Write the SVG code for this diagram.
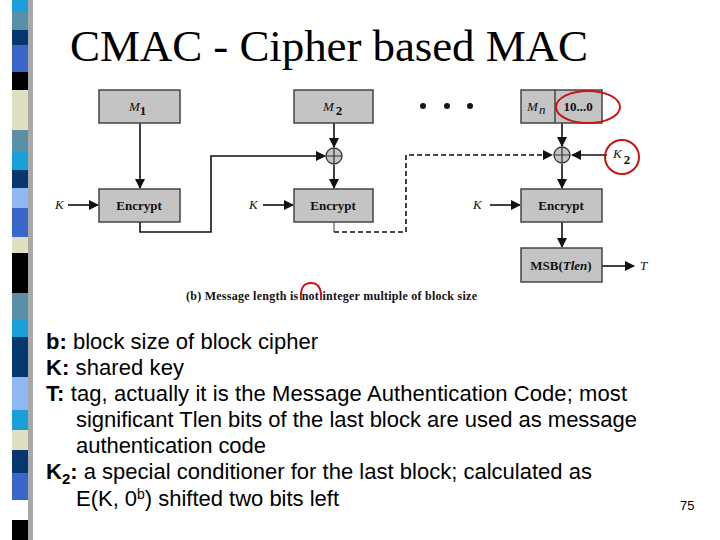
<svg xmlns="http://www.w3.org/2000/svg" width="720" height="540" viewBox="0 0 720 540">
<defs>
<marker id="ah" markerWidth="10" markerHeight="10" refX="9" refY="5" orient="auto" markerUnits="userSpaceOnUse"><path d="M0,0 L10,5 L0,10 Z" fill="#111"/></marker>
<style>
.box{fill:#c4c4c4;stroke:#444;stroke-width:1.5}
.bl{font-family:"Liberation Serif",serif;font-weight:bold;font-size:13px;fill:#111;text-anchor:middle}
.it{font-family:"Liberation Serif",serif;font-style:italic;font-size:13px;fill:#111}
.ln{fill:none;stroke:#111;stroke-width:1.6}
.ds{fill:none;stroke:#111;stroke-width:1.6;stroke-dasharray:5,3}
.body{font-family:"Liberation Sans",sans-serif;font-size:22px;fill:#000}
.red{fill:none;stroke:#c81414;stroke-width:2}
</style>
</defs>
<rect width="720" height="540" fill="#fff"/>
<g id="strip">
<rect x="28" y="0" width="5" height="540" fill="#a8a8a8"/>
<rect x="12" y="0" width="16" height="12" fill="#1aa0d8"/>
<rect x="12" y="12" width="16" height="18" fill="#5a8fa8"/>
<rect x="12" y="30" width="16" height="15" fill="#06386e"/>
<rect x="12" y="45" width="16" height="27" fill="#3a66cc"/>
<rect x="12" y="72" width="16" height="18" fill="#000"/>
<rect x="12" y="90" width="16" height="40" fill="#e0e0c0"/>
<rect x="12" y="130" width="16" height="22" fill="#5a8fa8"/>
<rect x="12" y="152" width="16" height="18" fill="#1aa0d8"/>
<rect x="12" y="170" width="16" height="18" fill="#06386e"/>
<rect x="12" y="188" width="16" height="20" fill="#90b8f0"/>
<rect x="12" y="208" width="16" height="29" fill="#3a66cc"/>
<rect x="12" y="237" width="16" height="16" fill="#e0e0c0"/>
<rect x="12" y="253" width="16" height="40" fill="#000"/>
<rect x="12" y="293" width="16" height="27" fill="#5a8fa8"/>
<rect x="12" y="320" width="16" height="17" fill="#1aa0d8"/>
<rect x="12" y="337" width="16" height="40" fill="#06386e"/>
<rect x="12" y="377" width="16" height="33" fill="#90b8f0"/>
<rect x="12" y="410" width="16" height="20" fill="#1aa0d8"/>
<rect x="12" y="430" width="16" height="20" fill="#e0e0c0"/>
<rect x="12" y="450" width="16" height="23" fill="#06386e"/>
<rect x="12" y="473" width="16" height="27" fill="#3a66cc"/>
<rect x="12" y="520" width="16" height="20" fill="#000"/>
</g>
<text x="70" y="61" font-family="Liberation Serif,serif" font-size="45" fill="#000" textLength="518" lengthAdjust="spacing">CMAC -  Cipher based MAC</text>
<g id="connectors">
<line class="ln" x1="140" y1="123" x2="140" y2="188" marker-end="url(#ah)"/>
<line class="ln" x1="68" y1="205" x2="98" y2="205" marker-end="url(#ah)"/>
<polyline class="ln" points="140,222 140,232 211,232 211,156 325,156" marker-end="url(#ah)"/>
<line class="ln" x1="334" y1="123" x2="334" y2="147" marker-end="url(#ah)"/>
<line class="ln" x1="334" y1="165" x2="334" y2="188" marker-end="url(#ah)"/>
<line class="ln" x1="263" y1="205" x2="293" y2="205" marker-end="url(#ah)"/>
<line x1="334" y1="222" x2="334" y2="232" stroke="#888" stroke-width="1.6"/>
<polyline class="ds" points="334,232 406,232 406,155 552,155" marker-end="url(#ah)"/>
<line class="ln" x1="562" y1="123" x2="562" y2="146" marker-end="url(#ah)"/>
<line class="ln" x1="607" y1="155" x2="572" y2="155" marker-end="url(#ah)"/>
<line class="ln" x1="562" y1="164" x2="562" y2="188" marker-end="url(#ah)"/>
<line class="ln" x1="490" y1="205" x2="520" y2="205" marker-end="url(#ah)"/>
<line class="ln" x1="562" y1="222" x2="562" y2="247" marker-end="url(#ah)"/>
<line class="ln" x1="602" y1="266" x2="634" y2="266" marker-end="url(#ah)"/>
</g>
<g id="m1"><rect class="box" x="99" y="90" width="81" height="33"/><text class="it" x="129" y="111">M</text><text x="143" y="115" class="bl" font-size="15">1</text></g>
<g id="enc1"><rect class="box" x="99" y="189" width="81" height="33"/><text class="bl" x="139" y="210">Encrypt</text></g>
<g id="m2"><rect class="box" x="294" y="90" width="79" height="33"/><text class="it" x="323" y="111">M</text><text x="339" y="115" class="bl" font-size="15">2</text></g>
<g id="enc2"><rect class="box" x="294" y="189" width="79" height="33"/><text class="bl" x="333" y="210">Encrypt</text></g>
<g id="mn"><rect class="box" x="521" y="90" width="81" height="33"/><line x1="555" y1="90" x2="555" y2="123" stroke="#444" stroke-width="1.5"/><text class="it" x="527" y="111">M</text><text class="it" x="539" y="114" font-size="12">n</text><text class="bl" x="578" y="111">10...0</text></g>
<g id="enc3"><rect class="box" x="521" y="189" width="81" height="33"/><text class="bl" x="561" y="210">Encrypt</text></g>
<g id="msb"><rect class="box" x="521" y="248" width="81" height="34"/><text class="bl" x="561" y="270">MSB(<tspan font-style="italic">Tlen</tspan>)</text></g>
<g id="xor2"><circle cx="334" cy="156" r="8" fill="#c4c4c4" stroke="#333" stroke-width="1.3"/><path d="M326,156 H342 M334,148 V164" stroke="#333" stroke-width="1.2"/></g>
<g id="xor3"><circle cx="562" cy="155" r="8" fill="#c4c4c4" stroke="#333" stroke-width="1.3"/><path d="M554,155 H570 M562,147 V163" stroke="#333" stroke-width="1.2"/></g>
<g id="labels">
<text class="it" x="55" y="209">K</text>
<text class="it" x="249" y="209">K</text>
<text class="it" x="473" y="209">K</text>
<text class="it" x="613" y="158" font-size="12">K</text><text class="bl" x="627" y="164" font-size="14">2</text>
<text class="it" x="640" y="270">T</text>
<circle cx="423" cy="106" r="3" fill="#111"/><circle cx="447" cy="106" r="3" fill="#111"/><circle cx="470" cy="106" r="3" fill="#111"/>
<text x="186" y="300" font-family="Liberation Serif,serif" font-weight="bold" font-size="12" fill="#111" textLength="291" lengthAdjust="spacing">(b) Message length is not integer multiple of block size</text>
</g>
<g id="marks">
<ellipse class="red" cx="588" cy="107" rx="32" ry="16"/>
<circle class="red" cx="622" cy="157" r="17"/>
<path class="red" d="M301,300 C300,286 305,283 311,283 C317,283 322,287 321,300"/>
</g>
<g id="body" class="body">
<text x="46" y="349" textLength="272" lengthAdjust="spacing"><tspan font-weight="bold">b:</tspan> block size of block cipher</text>
<text x="46" y="375" textLength="138" lengthAdjust="spacing"><tspan font-weight="bold">K:</tspan> shared key</text>
<text x="46" y="401" textLength="581" lengthAdjust="spacing"><tspan font-weight="bold">T:</tspan> tag, actually it is the Message Authentication Code; most</text>
<text x="76" y="427" textLength="561" lengthAdjust="spacing">significant Tlen bits of the last block are used as message</text>
<text x="76" y="453" textLength="190" lengthAdjust="spacing">authentication code</text>
<text x="46" y="479" textLength="546" lengthAdjust="spacing"><tspan font-weight="bold">K<tspan font-size="15" dy="5">2</tspan><tspan dy="-5">:</tspan></tspan> a special conditioner for the last block; calculated as</text>
<text x="76" y="506" textLength="263" lengthAdjust="spacing">E(K, 0<tspan font-size="14" dy="-7">b</tspan><tspan dy="7">) shifted two bits left</tspan></text>
</g>
<text x="680" y="510" font-family="Liberation Sans,sans-serif" font-size="13" fill="#000">75</text>
</svg>
